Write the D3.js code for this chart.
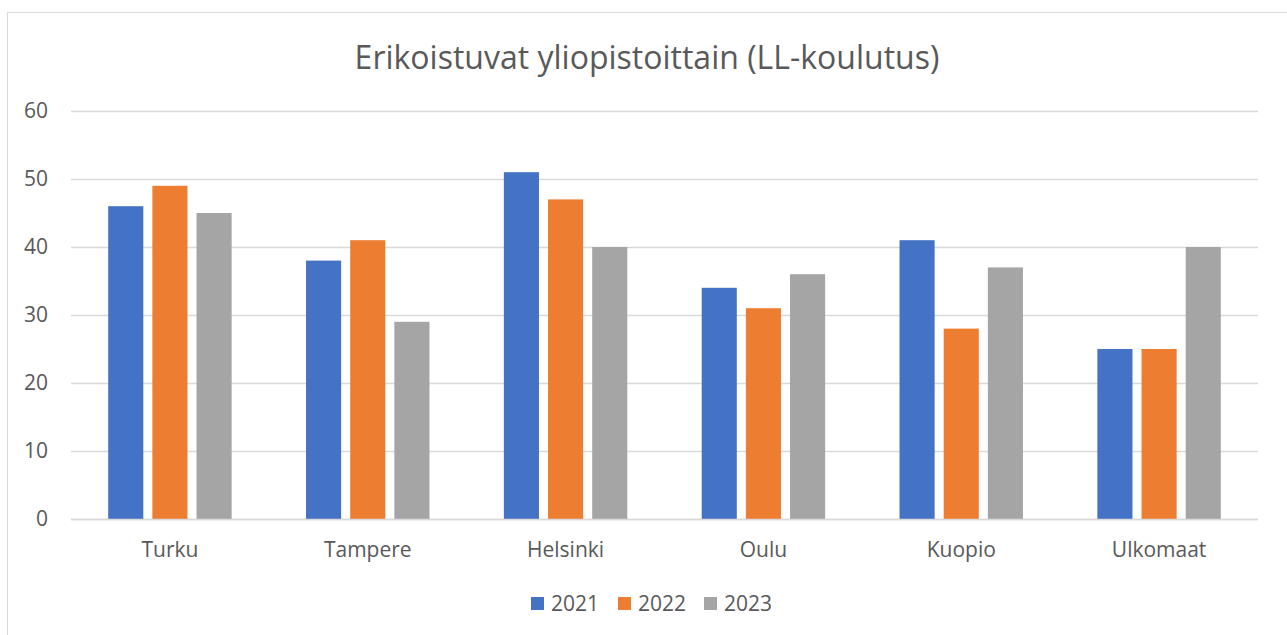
<!DOCTYPE html>
<html>
<head>
<meta charset="utf-8">
<script src="https://cdn.jsdelivr.net/npm/d3@7"></script>
<style>
  body { margin: 0; background: #fff; }
  text { font-family: "Open Sans", "Noto Sans", sans-serif; fill: #595959; }
</style>
</head>
<body>
<svg id="chart" width="1287" height="635"></svg>
<script>
// data
const categories = ['Turku', 'Tampere', 'Helsinki', 'Oulu', 'Kuopio', 'Ulkomaat'];
const years = ['2021', '2022', '2023'];
const values2021 = [46, 38, 51, 34, 41, 25];
const values2022 = [49, 41, 47, 31, 28, 25];
const values2023 = [45, 29, 40, 36, 37, 40];
const yTicks = [0, 10, 20, 30, 40, 50, 60];
const colors = ['#4472c4', '#ed7d31', '#a5a5a5'];

const seriesValues = [values2021, values2022, values2023];

const svg = d3.select('#chart');

// outer frame
svg.append('rect')
    .attr('x', 7.5).attr('y', 12.5)
    .attr('width', 1285).attr('height', 640)
    .attr('fill', '#fff').attr('stroke', '#d9d9d9').attr('stroke-width', 1);

const plot = { left: 71, right: 1258, top: 111, bottom: 519 };

let x = d3.scaleBand()
    .domain(categories)
    .range([plot.left, plot.right]);

let xInner = d3.scaleBand()
    .domain(years)
    .range([x.bandwidth() * 0.188, x.bandwidth() * 0.812])
    .paddingInner(0.205);

let y = d3.scaleLinear()
    .domain([0, 60])
    .range([plot.bottom, plot.top]);

// gridlines
svg.append('g').selectAll('line')
    .data(yTicks)
    .enter().append('line')
    .attr('x1', plot.left).attr('x2', plot.right)
    .attr('y1', d => Math.round(y(d)) + 0.5)
    .attr('y2', d => Math.round(y(d)) + 0.5)
    .attr('stroke', '#d9d9d9').attr('stroke-width', 1.5);

// y axis labels
let yAxis = svg.append('g')
    .attr('transform', `translate(${plot.left - 23},0)`)
    .call(d3.axisLeft(y).tickValues(yTicks).tickSize(0).tickPadding(0));
yAxis.select('.domain').remove();
yAxis.selectAll('text')
    .style('font-size', '21px')
    .attr('fill', '#595959');

// bars
let groups = svg.append('g').selectAll('g')
    .data(categories)
    .enter().append('g')
    .attr('transform', d => `translate(${x(d)},0)`);

groups.selectAll('rect')
    .data((d, i) => years.map((yr, j) => ({ year: yr, value: seriesValues[j][i], idx: j })))
    .enter().append('rect')
    .attr('x', d => xInner(d.year))
    .attr('width', xInner.bandwidth())
    .attr('y', d => y(d.value))
    .attr('height', d => y(0) - y(d.value))
    .attr('fill', d => colors[d.idx]);

// zero line on top
svg.append('line')
    .attr('x1', plot.left).attr('x2', plot.right)
    .attr('y1', Math.round(y(0)) + 0.5).attr('y2', Math.round(y(0)) + 0.5)
    .attr('stroke', '#d9d9d9').attr('stroke-width', 1.5);

// x axis labels
let xAxis = svg.append('g')
    .attr('transform', `translate(0,${plot.bottom})`)
    .call(d3.axisBottom(x).tickSize(0).tickPadding(23));
xAxis.select('.domain').remove();
xAxis.selectAll('text')
    .style('font-size', '21px')
    .attr('fill', '#595959');

// title
svg.append('text')
    .attr('x', 647).attr('y', 69)
    .attr('text-anchor', 'middle')
    .style('font-size', '32px')
    .text('Erikoistuvat yliopistoittain (LL-koulutus)');

// legend
let legendX = [531, 618, 704];
let legend = svg.append('g').selectAll('g')
    .data(years)
    .enter().append('g')
    .attr('transform', (d, i) => `translate(${legendX[i]},597)`);
legend.append('rect')
    .attr('width', 13).attr('height', 13)
    .attr('fill', (d, i) => colors[i]);
legend.append('text')
    .attr('x', 20).attr('y', 14)
    .style('font-size', '21px')
    .text(d => d);
</script>
</body>
</html>
